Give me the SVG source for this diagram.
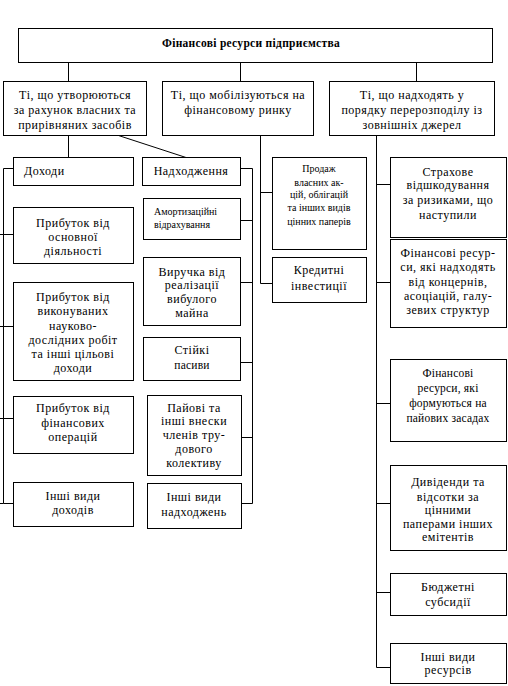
<svg xmlns="http://www.w3.org/2000/svg" width="508" height="686" viewBox="0 0 508 686">
<style>
rect{fill:#fff;stroke:#000;stroke-width:1}
.c line,.c polyline{stroke:#000;stroke-width:1;fill:none}
text{font-family:'Liberation Serif','Times New Roman',serif;font-size:12px;fill:#000;text-anchor:middle;letter-spacing:0.5px}
.s{font-size:10px;letter-spacing:0}
.m{font-size:11.5px;letter-spacing:0.2px}
.b{font-weight:bold;font-size:11.5px;letter-spacing:0.3px}
.l{text-anchor:start}
</style>
<rect width="508" height="686" style="fill:#fff;stroke:none"/>
<g class="c">
<line x1="68.5" y1="62" x2="68.5" y2="81"/>
<line x1="240.5" y1="62" x2="240.5" y2="81"/>
<line x1="416.5" y1="62" x2="416.5" y2="81"/>
<line x1="68.5" y1="135" x2="68.5" y2="157"/>
<line x1="117" y1="135" x2="186" y2="157.5"/>
<polyline points="13,168.5 3.5,168.5 3.5,503.5 0,503.5"/>
<line x1="0" y1="234.5" x2="13" y2="234.5"/>
<line x1="0" y1="326.5" x2="13" y2="326.5"/>
<line x1="0" y1="418.5" x2="13" y2="418.5"/>
<line x1="3.5" y1="503.5" x2="13" y2="503.5"/>
<polyline points="240,168.5 252.5,168.5 252.5,503.5 241,503.5"/>
<line x1="240" y1="220.5" x2="252.5" y2="220.5"/>
<line x1="240" y1="282.5" x2="252.5" y2="282.5"/>
<line x1="240" y1="362.5" x2="252.5" y2="362.5"/>
<line x1="241" y1="437.5" x2="252.5" y2="437.5"/>
<polyline points="260.5,135 260.5,283.5 273,283.5"/>
<line x1="260.5" y1="192.5" x2="272" y2="192.5"/>
<polyline points="376.5,135 376.5,667.5 390,667.5"/>
<line x1="376.5" y1="184.5" x2="390" y2="184.5"/>
<line x1="376.5" y1="282.5" x2="390" y2="282.5"/>
<line x1="376.5" y1="403.5" x2="390" y2="403.5"/>
<line x1="376.5" y1="503.5" x2="390" y2="503.5"/>
<line x1="376.5" y1="592.5" x2="390" y2="592.5"/>
</g>
<g id="root"><rect x="18.5" y="28.5" width="474" height="34"/><text class="b" x="251" y="47">Фінансові ресурси підприємства</text></g>
<g id="own"><rect x="3.5" y="81.5" width="143" height="54"/><text x="75" y="99">Ті, що утворюються<tspan x="75" y="114">за рахунок власних та</tspan><tspan x="75" y="129">прирівняних засобів</tspan></text></g>
<g id="market"><rect x="162.5" y="81.5" width="151" height="54"/><text x="238" y="99">Ті, що мобілізуються на<tspan x="238" y="114">фінансовому ринку</tspan></text></g>
<g id="redistr"><rect x="329.5" y="81.5" width="165" height="54"/><text x="412" y="99">Ті, що надходять у<tspan x="412" y="114">порядку перерозподілу із</tspan><tspan x="412" y="129">зовнішніх джерел</tspan></text></g>
<g id="dokhody"><rect x="13.5" y="157.5" width="120" height="28"/><text class="l" x="24" y="175">Доходи</text></g>
<g id="osnovna"><rect x="13.5" y="207.5" width="120" height="56"/><text x="73" y="227">Прибуток від<tspan x="73" y="241">основної</tspan><tspan x="73" y="255">діяльності</tspan></text></g>
<g id="nauk"><rect x="13.5" y="282.5" width="120" height="98"/><text x="73" y="301">Прибуток від<tspan x="73" y="315">виконуваних</tspan><tspan x="73" y="330">науково-</tspan><tspan x="73" y="344">дослідних робіт</tspan><tspan x="73" y="358">та інші цільові</tspan><tspan x="73" y="372">доходи</tspan></text></g>
<g id="fin"><rect x="13.5" y="396.5" width="120" height="57"/><text x="73" y="412">Прибуток від<tspan x="73" y="427">фінансових</tspan><tspan x="73" y="441">операцій</tspan></text></g>
<g id="inshi-d"><rect x="13.5" y="482.5" width="120" height="44"/><text x="73" y="500">Інші види<tspan x="73" y="514">доходів</tspan></text></g>
<g id="nadkh"><rect x="142.5" y="157.5" width="98" height="28"/><text x="191" y="175">Надходження</text></g>
<g id="amort"><rect x="143.5" y="198.5" width="97" height="41"/><text class="s l" x="154" y="215">Амортизаційні<tspan x="154" y="228">відрахування</tspan></text></g>
<g id="vyruchka"><rect x="143.5" y="257.5" width="97" height="68"/><text x="192" y="276">Виручка від<tspan x="192" y="289">реалізації</tspan><tspan x="192" y="303">вибулого</tspan><tspan x="192" y="317">майна</tspan></text></g>
<g id="stiiki"><rect x="143.5" y="337.5" width="97" height="43"/><text x="192" y="354">Стійкі<tspan class="m" x="192" y="369">пасиви</tspan></text></g>
<g id="paiovi"><rect x="147.5" y="395.5" width="94" height="80"/><text x="194" y="412">Пайові та<tspan x="194" y="425">інші внески</tspan><tspan x="194" y="439">членів тру-</tspan><tspan x="194" y="453">дового</tspan><tspan x="194" y="467">колективу</tspan></text></g>
<g id="inshi-n"><rect x="147.5" y="483.5" width="94" height="45"/><text x="194" y="501">Інші види<tspan x="194" y="516">надходжень</tspan></text></g>
<g id="prodazh"><rect x="272.5" y="157.5" width="94" height="92"/><text class="s" x="319" y="172">Продаж<tspan x="319" y="186">власних ак-</tspan><tspan x="319" y="198">цій, облігацій</tspan><tspan x="319" y="211">та інших видів</tspan><tspan x="319" y="225">цінних паперів</tspan></text></g>
<g id="kredyt"><rect x="272.5" y="257.5" width="94" height="45"/><text x="319" y="274">Кредитні<tspan x="319" y="290">інвестиції</tspan></text></g>
<g id="strakh"><rect x="390.5" y="157.5" width="116" height="80"/><text x="448" y="176">Страхове<tspan x="448" y="189">відшкодування</tspan><tspan x="448" y="204">за ризиками, що</tspan><tspan x="448" y="219">наступили</tspan></text></g>
<g id="koncern"><rect x="390.5" y="239.5" width="116" height="88"/><text x="448" y="257">Фінансові ресур-<tspan x="448" y="271">си, які надходять</tspan><tspan x="448" y="286">від концернів,</tspan><tspan x="448" y="300">асоціацій, галу-</tspan><tspan x="448" y="314">зевих структур</tspan></text></g>
<g id="paiovi-z"><rect x="390.5" y="359.5" width="116" height="82"/><text class="m" x="448" y="377">Фінансові<tspan x="448" y="392">ресурси, які</tspan><tspan x="448" y="407">формуються на</tspan><tspan x="448" y="422">пайових засадах</tspan></text></g>
<g id="dyvid"><rect x="390.5" y="465.5" width="116" height="85"/><text x="448" y="486">Дивіденди та<tspan x="448" y="501">відсотки за</tspan><tspan x="448" y="514">цінними</tspan><tspan x="448" y="528">паперами інших</tspan><tspan x="448" y="541">емітентів</tspan></text></g>
<g id="budzh"><rect x="390.5" y="573.5" width="116" height="42"/><text x="448" y="591">Бюджетні<tspan x="448" y="606">субсидії</tspan></text></g>
<g id="inshi-r"><rect x="390.5" y="643.5" width="116" height="40"/><text x="448" y="661">Інші види<tspan x="448" y="674">ресурсів</tspan></text></g>
</svg>
